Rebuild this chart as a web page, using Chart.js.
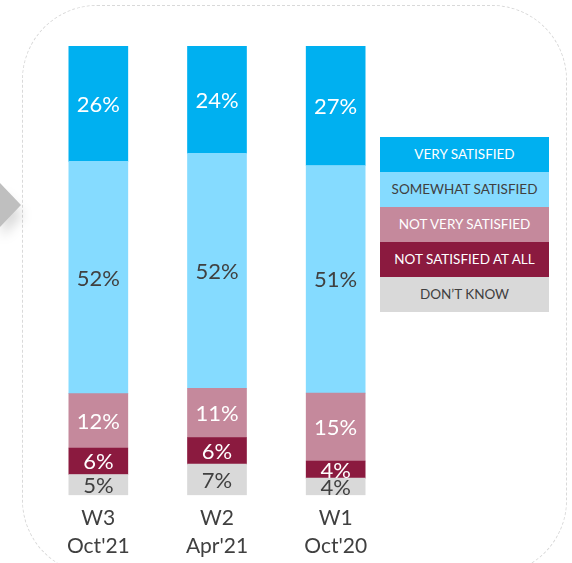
<!DOCTYPE html>
<html>
<head>
<meta charset="utf-8">
<script src="https://cdn.jsdelivr.net/npm/chart.js@4.4.0/dist/chart.umd.min.js"></script>
<style>
  html, body { margin: 0; padding: 0; background: #fff; }
  #wrap { position: relative; width: 572px; height: 563px; overflow: hidden; font-family: Lato, sans-serif; }
  #frame {
    position: absolute; left: 22px; top: 5px; width: 545px; height: 570px;
    border: 1px dashed #d9d9d9; border-radius: 75px; box-sizing: border-box;
  }
  #arrow {
    position: absolute; left: 0; top: 183px; width: 0; height: 0;
    border-top: 22px solid transparent; border-bottom: 22px solid transparent;
    border-left: 21px solid #bfbfbf;
    filter: drop-shadow(2px 10px 6px rgba(0,0,0,0.15));
  }
  #myChart { position: absolute; left: 0; top: 0; }
  #legend { position: absolute; left: 380px; top: 137px; width: 169px; }
  #legend div {
    height: 35px; line-height: 35px; text-align: center; font-size: 13.5px;
  }
</style>
</head>
<body>
<div id="wrap">
  <div id="frame"></div>
  <div id="arrow"></div>
  <canvas id="myChart" width="572" height="563"></canvas>
  <div id="legend"></div>
</div>
<script>
// kategorie (fale badania)
const waves = [['W3', "Oct'21"], ['W2', "Apr'21"], ['W1', "Oct'20"]];

// wartości (%)
const verySatisfied = [25.7, 23.9, 26.6];
const somewhatSatisfied = [51.7, 52.3, 50.7];
const notVerySatisfied = [12.1, 11.0, 15.1];
const notSatisfiedAtAll = [5.9, 5.9, 3.8];
const dontKnow = [4.6, 6.9, 3.8];

const seriesNames = ['VERY SATISFIED', 'SOMEWHAT SATISFIED', 'NOT VERY SATISFIED', 'NOT SATISFIED AT ALL', 'DON\u2019T KNOW'];
const seriesColors = ['#00b0f0', '#85dbff', '#c5899c', '#8b1a3f', '#d9d9d9'];
const textColors = ['#ffffff', '#404040', '#ffffff', '#ffffff', '#404040'];

// etykiety na słupkach
const barLabels = {
  id: 'barLabels',
  afterDatasetsDraw(chart) {
    const ctx = chart.ctx;
    ctx.save();
    ctx.font = '22px Lato';
    ctx.textAlign = 'center';
    ctx.textBaseline = 'middle';
    chart.data.datasets.forEach((ds, i) => {
      const meta = chart.getDatasetMeta(i);
      meta.data.forEach((bar, j) => {
        ctx.fillStyle = ds.labelColor;
        ctx.fillText(Math.round(ds.data[j]) + '%', bar.x, (bar.y + bar.base) / 2 + 1);
      });
    });
    ctx.restore();
  }
};

// od dołu do góry
const stackOrder = [4, 3, 2, 1, 0];
const seriesData = [verySatisfied, somewhatSatisfied, notVerySatisfied, notSatisfiedAtAll, dontKnow];

const ctx = document.getElementById('myChart');
const chart = new Chart(ctx, {
  type: 'bar',
  data: {
    labels: waves,
    datasets: stackOrder.map(k => ({
      label: seriesNames[k],
      data: seriesData[k],
      backgroundColor: seriesColors[k],
      labelColor: textColors[k],
      borderWidth: 0,
      barThickness: 59
    }))
  },
  options: {
    responsive: false,
    animation: false,
    layout: { padding: { left: 39, right: 177, top: 46, bottom: 2 } },
    plugins: { legend: { display: false }, tooltip: { enabled: false } },
    scales: {
      x: {
        stacked: true,
        grid: { display: false },
        border: { display: false },
        ticks: { color: '#404040', font: { family: 'Lato', size: 21, lineHeight: 1.33 }, padding: 1, maxRotation: 0 }
      },
      y: {
        stacked: true,
        display: false,
        min: 0,
        max: 100
      }
    }
  },
  plugins: [barLabels]
});

// legenda
const legend = document.getElementById('legend');
seriesNames.forEach((name, i) => {
  const d = document.createElement('div');
  d.textContent = name;
  d.style.background = seriesColors[i];
  d.style.color = textColors[i];
  legend.appendChild(d);
});
</script>
</body>
</html>
